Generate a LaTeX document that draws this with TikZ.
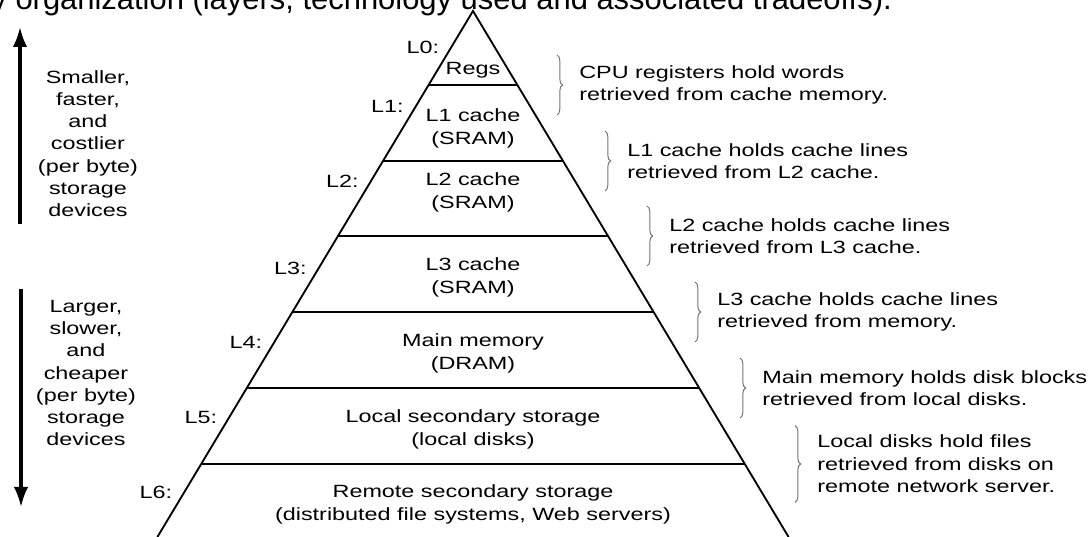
\documentclass[tikz,border=0pt]{standalone}
\usepackage{fontspec}
\setmainfont{Liberation Sans}[FakeStretch=1.32]
\newfontfamily\titlefont{Liberation Sans}
\usetikzlibrary{positioning}
\usetikzlibrary{arrows.meta}
\usetikzlibrary{decorations.pathreplacing}

\tikzset{
  pyr/.style={line width=1.3pt},
  lvltext/.style={align=center, inner sep=0pt, font=\fontsize{12.6}{16.4}\selectfont},
  lvllabel/.style={anchor=east, inner sep=0pt, font=\fontsize{12.6}{16.4}\selectfont},
  sidetext/.style={align=center, inner sep=0pt, font=\fontsize{12.6}{15.8}\selectfont},
  note/.style={anchor=west, align=left, inner sep=0pt, font=\fontsize{12.6}{16}\selectfont},
  bracket/.style={decorate, decoration={brace, amplitude=4pt}, draw=black!55, line width=0.7pt},
  bigarrow/.style={line width=2.2pt, -{Latex[length=0.5cm, width=0.36cm]}}
}

\begin{document}
\begin{tikzpicture}
                    \useasboundingbox (0,0) rectangle (27.3,13.425);
                    \node[anchor=base west, inner sep=0pt, font=\titlefont\fontsize{22}{26}\selectfont] (title) at (-0.22,13.18) {y organization (layers, technology used and associated tradeoffs).};  %cut off slide title
                    \draw[pyr] (3.935,0) -- (11.825,13.15) -- (19.715,0);   %pyramid sides
                    \foreach \y in {11.3,9.4,7.525,5.625,3.725,1.825}
                        \draw[pyr] ({11.825-0.6*(13.15-\y)},\y) -- ({11.825+0.6*(13.15-\y)},\y);   %level lines
                    \node[lvltext] (regs) at (11.825,11.675) {Regs};
                    \node[lvltext] (lone) at (11.825,10.2125) {L1 cache\\(SRAM)};
                    \node[lvltext] (ltwo) at (11.825,8.6125) {L2 cache\\(SRAM)};
                    \node[lvltext] (lthree) at (11.825,6.5) {L3 cache\\(SRAM)};
                    \node[lvltext] (mainmem) at (11.825,4.5875) {Main memory\\(DRAM)};
                    \node[lvltext] (localdisk) at (11.825,2.7) {Local secondary storage\\(local disks)};
                    \node[lvltext] (remote) at (11.825,0.825) {Remote secondary storage\\(distributed file systems, Web servers)};
                    \foreach \y [count=\i from 0] in {12.25,10.775,8.9,6.725,4.875,3.0,1.125}
                        \node[lvllabel] (lab\i) at ({11.825-0.6*(13.15-\y)-0.3},\y) {L\i:};   %level names
                    \foreach \y/\bx/\h/\txt [count=\i] in {
                        11.3/13.925/0.75/{CPU registers hold words\\retrieved from cache memory.},
                        9.4/15.125/0.75/{L1 cache holds cache lines\\retrieved from L2 cache.},
                        7.525/16.175/0.75/{L2 cache holds cache lines\\retrieved from L3 cache.},
                        5.625/17.375/0.75/{L3 cache holds cache lines\\retrieved from memory.},
                        3.725/18.5/0.75/{Main memory holds disk blocks\\retrieved from local disks.},
                        1.825/19.875/0.96/{Local disks hold files\\retrieved from disks on\\remote network server.}}
                    {
                        \draw[bracket] (\bx,\y+\h) -- (\bx,\y-\h);
                        \node[note] (note\i) at (\bx+0.55,\y) {\txt};
                    }
                    \node[sidetext] (faster) at (2.2,9.8375) {Smaller,\\faster,\\and\\costlier\\(per byte)\\storage\\devices};
                    \node[sidetext] (slower) at (2.15,4.1) {Larger,\\slower,\\and\\cheaper\\(per byte)\\storage\\devices};
                    \coordinate (upbot) at (0.5,7.825);
                    \coordinate (uptop) at (0.5,12.75);
                    \coordinate (downtop) at (0.525,6.2);
                    \coordinate (downbot) at (0.525,0.75);
                    \draw[bigarrow] (upbot) -- (uptop);   %smaller and faster
                    \draw[bigarrow] (downtop) -- (downbot);   %larger and slower
                \end{tikzpicture}
\end{document}
